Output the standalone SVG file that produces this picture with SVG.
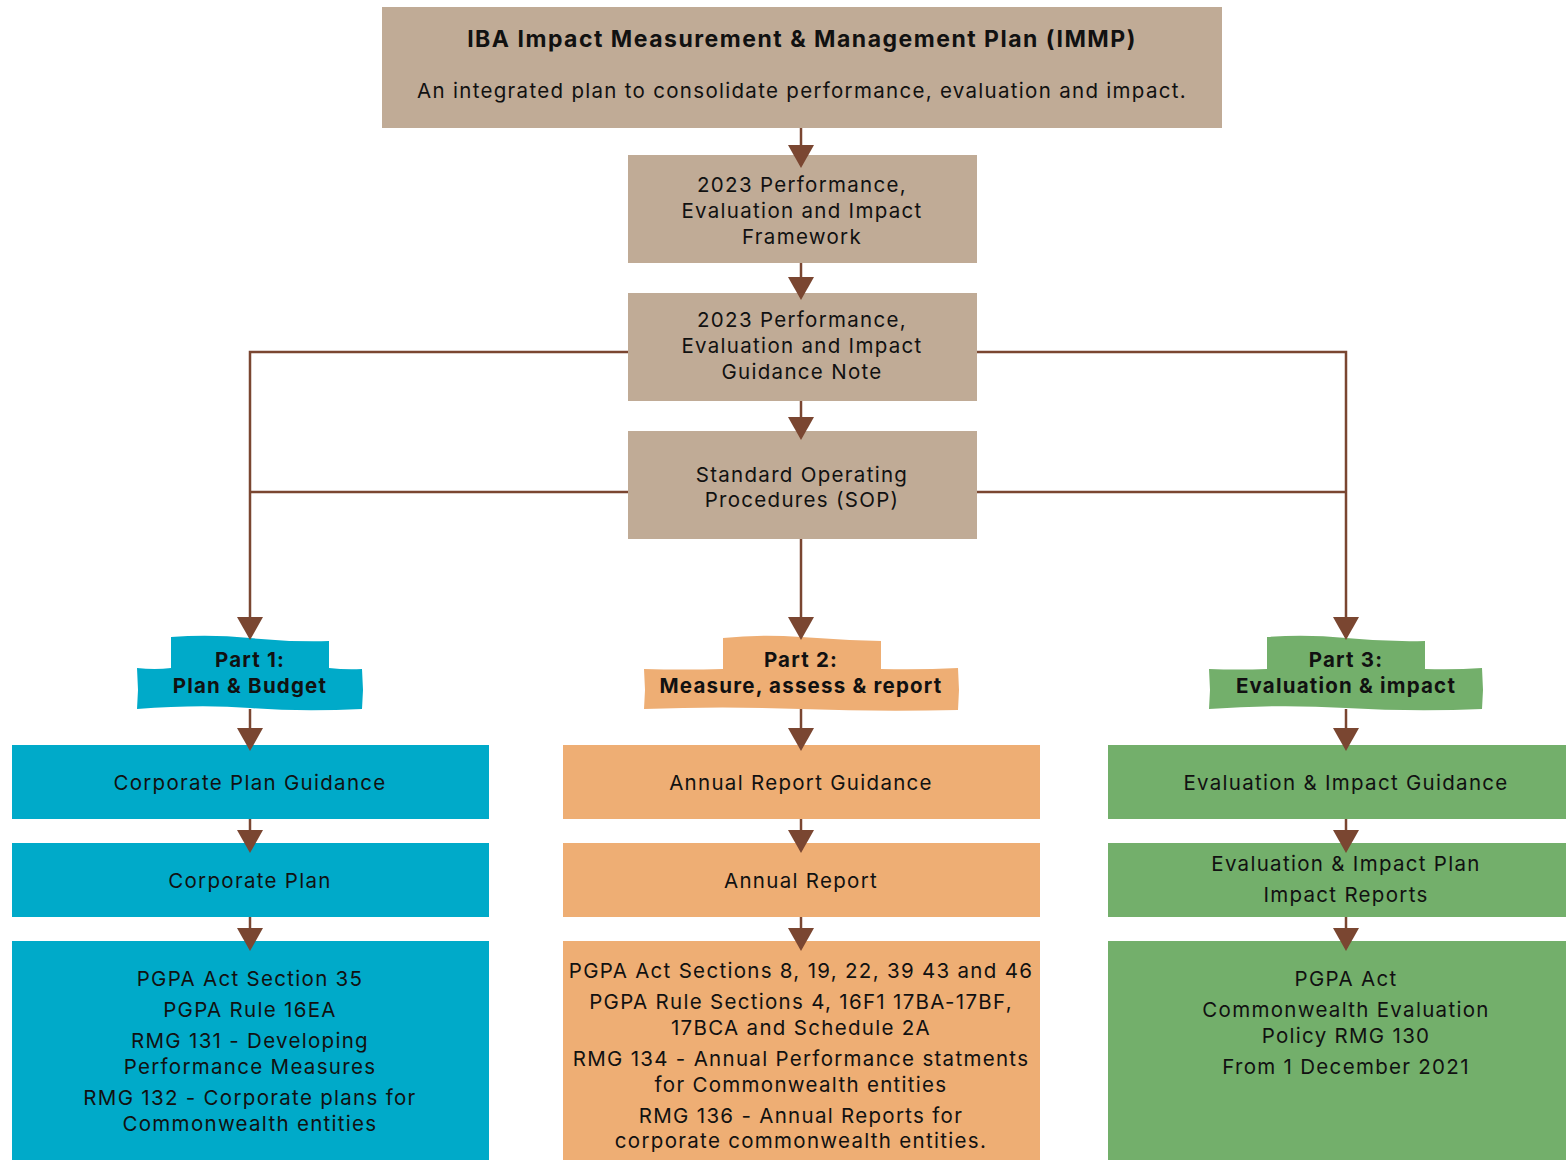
<svg xmlns="http://www.w3.org/2000/svg" width="1566" height="1160" viewBox="0 0 1566 1160">
<defs>
<marker id="ah" markerUnits="userSpaceOnUse" markerWidth="24" markerHeight="26" viewBox="0 0 24 26" refX="20" refY="13" orient="auto">
<path d="M0,0 L23,13 L0,26 Z" fill="#7A4631"/>
</marker>
<style>
.tan{fill:#C0AB96}
.blue{fill:#00AAC9}
.orange{fill:#EEAE74}
.green{fill:#73AF6B}
text{font-family:Inter,"Noto Sans","Liberation Sans",sans-serif;fill:#111;text-anchor:middle}
.t{font-size:20.5px;letter-spacing:1.3px}
.b{font-weight:700;font-size:20.5px;letter-spacing:1.2px}
.title{font-weight:700;font-size:23px;letter-spacing:1.5px}
.con{stroke:#7A4631;stroke-width:2.5;fill:none}
.arr{marker-end:url(#ah)}
</style>
</defs>
<rect width="1566" height="1160" fill="#fff"/>

<g id="immp">
<rect class="tan" x="382" y="7" width="840" height="121"/>
<text class="title" x="802" y="47">IBA Impact Measurement &amp; Management Plan (IMMP)</text>
<text class="t" x="802" y="98">An integrated plan to consolidate performance, evaluation and impact.</text>
</g>
<g id="framework">
<rect class="tan" x="628" y="155" width="349" height="108"/>
<text class="t" x="802" y="192">2023 Performance,</text>
<text class="t" x="802" y="218">Evaluation and Impact</text>
<text class="t" x="802" y="244">Framework</text>
</g>
<g id="guidance-note">
<rect class="tan" x="628" y="293" width="349" height="108"/>
<text class="t" x="802" y="327">2023 Performance,</text>
<text class="t" x="802" y="353">Evaluation and Impact</text>
<text class="t" x="802" y="379">Guidance Note</text>
</g>
<g id="sop">
<rect class="tan" x="628" y="431" width="349" height="108"/>
<text class="t" x="802" y="482">Standard Operating</text>
<text class="t" x="802" y="507">Procedures (SOP)</text>
</g>

<g id="part1">
<path class="blue" d="M171,637 Q210,634 250,638 T329,641 L329,668 Q346,670 362,669 L363,690 L362,709 Q300,712 250,708 T137,709 L138,690 L137,668 Q155,670 171,668 Z"/>
<text class="b" x="250" y="667">Part 1:</text>
<text class="b" x="250" y="693">Plan &amp; Budget</text>
</g>
<g id="part2">
<path class="orange" d="M723,638 Q760,634 801,637 T881,641 L881,669 Q920,670 958,668 L959,690 L958,710 Q880,712 801,709 T644,709 L645,690 L644,669 Q684,670 723,669 Z"/>
<text class="b" x="801" y="667">Part 2:</text>
<text class="b" x="801" y="693">Measure, assess &amp; report</text>
</g>
<g id="part3">
<path class="green" d="M1267,637 Q1306,634 1346,638 T1425,641 L1425,669 Q1454,670 1482,668 L1483,690 L1482,709 Q1414,712 1346,708 T1209,709 L1210,690 L1209,669 Q1238,670 1267,669 Z"/>
<text class="b" x="1346" y="667">Part 3:</text>
<text class="b" x="1346" y="693">Evaluation &amp; impact</text>
</g>

<g id="corp-plan-guidance">
<rect class="blue" x="12" y="745" width="477" height="74"/>
<text class="t" x="250" y="790">Corporate Plan Guidance</text>
</g>
<g id="corp-plan">
<rect class="blue" x="12" y="843" width="477" height="74"/>
<text class="t" x="250" y="888">Corporate Plan</text>
</g>
<g id="part1-refs">
<rect class="blue" x="12" y="941" width="477" height="219"/>
<text class="t" x="250" y="986">PGPA Act Section 35</text>
<text class="t" x="250" y="1017">PGPA Rule 16EA</text>
<text class="t" x="250" y="1048">RMG 131 - Developing</text>
<text class="t" x="250" y="1074">Performance Measures</text>
<text class="t" x="250" y="1105">RMG 132 - Corporate plans for</text>
<text class="t" x="250" y="1131">Commonwealth entities</text>
</g>

<g id="annual-report-guidance">
<rect class="orange" x="563" y="745" width="477" height="74"/>
<text class="t" x="801" y="790">Annual Report Guidance</text>
</g>
<g id="annual-report">
<rect class="orange" x="563" y="843" width="477" height="74"/>
<text class="t" x="801" y="888">Annual Report</text>
</g>
<g id="part2-refs">
<rect class="orange" x="563" y="941" width="477" height="219"/>
<text class="t" x="801" y="978">PGPA Act Sections 8, 19, 22, 39 43 and 46</text>
<text class="t" x="801" y="1009">PGPA Rule Sections 4, 16F1 17BA-17BF,</text>
<text class="t" x="801" y="1035">17BCA and Schedule 2A</text>
<text class="t" x="801" y="1066">RMG 134 - Annual Performance statments</text>
<text class="t" x="801" y="1092">for Commonwealth entities</text>
<text class="t" x="801" y="1123">RMG 136 - Annual Reports for</text>
<text class="t" x="801" y="1148">corporate commonwealth entities.</text>
</g>

<g id="eval-guidance">
<rect class="green" x="1108" y="745" width="458" height="74"/>
<text class="t" x="1346" y="790">Evaluation &amp; Impact Guidance</text>
</g>
<g id="eval-plan">
<rect class="green" x="1108" y="843" width="458" height="74"/>
<text class="t" x="1346" y="871">Evaluation &amp; Impact Plan</text>
<text class="t" x="1346" y="902">Impact Reports</text>
</g>
<g id="part3-refs">
<rect class="green" x="1108" y="941" width="458" height="219"/>
<text class="t" x="1346" y="986">PGPA Act</text>
<text class="t" x="1346" y="1017">Commonwealth Evaluation</text>
<text class="t" x="1346" y="1043">Policy RMG 130</text>
<text class="t" x="1346" y="1074">From 1 December 2021</text>
</g>

<g id="connectors">
<path class="con arr" d="M801,128 V165"/>
<path class="con arr" d="M801,263 V297"/>
<path class="con arr" d="M801,401 V437"/>
<path class="con arr" d="M801,539 V637"/>
<path class="con arr" d="M628,352 H250 V637"/>
<path class="con" d="M628,492 H250"/>
<path class="con arr" d="M977,352 H1346 V637"/>
<path class="con" d="M977,492 H1346"/>
<path class="con arr" d="M250,709 V748"/>
<path class="con arr" d="M801,709 V748"/>
<path class="con arr" d="M1346,709 V748"/>
<path class="con arr" d="M250,819 V850"/>
<path class="con arr" d="M801,819 V850"/>
<path class="con arr" d="M1346,819 V850"/>
<path class="con arr" d="M250,917 V948"/>
<path class="con arr" d="M801,917 V948"/>
<path class="con arr" d="M1346,917 V948"/>
</g>
</svg>
